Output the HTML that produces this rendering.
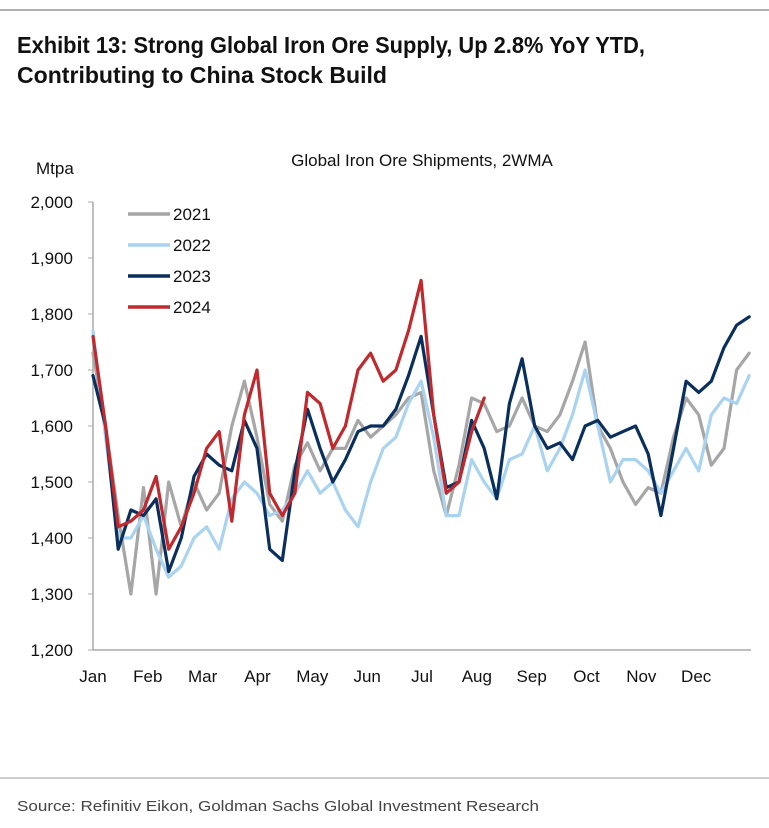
<!DOCTYPE html>
<html><head><meta charset="utf-8"><style>
html,body{margin:0;padding:0;background:#fff;}
svg{display:block;font-family:"Liberation Sans",Arial,sans-serif;}
</style></head><body>
<svg id="chart" width="769" height="828" viewBox="0 0 769 828">
<line x1="0" y1="10" x2="769" y2="10" stroke="#999" stroke-width="1.5"/>
<text x="17" y="53" font-size="23" font-weight="bold" fill="#111" textLength="628" lengthAdjust="spacingAndGlyphs">Exhibit 13: Strong Global Iron Ore Supply, Up 2.8% YoY YTD,</text>
<text x="17" y="83" font-size="23" font-weight="bold" fill="#111" textLength="370" lengthAdjust="spacingAndGlyphs">Contributing to China Stock Build</text>
<text x="422" y="166" font-size="17" text-anchor="middle" fill="#111">Global Iron Ore Shipments, 2WMA</text>
<text x="36" y="174" font-size="17" fill="#111">Mtpa</text>
<g id="axes"></g>
<g id="series"></g>
<g id="legend"></g>
<line x1="0" y1="778" x2="769" y2="778" stroke="#999" stroke-width="1"/>
<text x="17" y="811" font-size="15" fill="#444" textLength="522" lengthAdjust="spacingAndGlyphs">Source: Refinitiv Eikon, Goldman Sachs Global Investment Research</text>
</svg>
<script>
const months=["Jan","Feb","Mar","Apr","May","Jun","Jul","Aug","Sep","Oct","Nov","Dec"];
const yTicks=[1200,1300,1400,1500,1600,1700,1800,1900,2000];
const seriesNames=["2021","2022","2023","2024"];
const seriesColors=["#a6a6a6","#a9d3f0","#0b2f5c","#c0292e"];
const v2021=[1730,1600,1440,1300,1490,1300,1500,1420,1500,1450,1480,1600,1680,1580,1460,1430,1530,1570,1520,1560,1560,1610,1580,1600,1620,1650,1660,1520,1440,1530,1650,1640,1590,1600,1650,1600,1590,1620,1680,1750,1600,1560,1500,1460,1490,1480,1580,1650,1620,1530,1560,1700,1730];
const v2022=[1770,1580,1400,1400,1440,1380,1330,1350,1400,1420,1380,1470,1500,1480,1440,1450,1480,1520,1480,1500,1450,1420,1500,1560,1580,1640,1680,1580,1440,1440,1540,1500,1470,1540,1550,1600,1520,1560,1620,1700,1600,1500,1540,1540,1520,1480,1520,1560,1520,1620,1650,1640,1690];
const v2023=[1690,1600,1380,1450,1440,1470,1340,1400,1510,1550,1530,1520,1610,1560,1380,1360,1520,1630,1560,1500,1540,1590,1600,1600,1630,1690,1760,1620,1490,1500,1610,1560,1470,1640,1720,1600,1560,1570,1540,1600,1610,1580,1590,1600,1550,1440,1560,1680,1660,1680,1740,1780,1795];
const v2024=[1760,1600,1420,1430,1450,1510,1380,1420,1480,1560,1590,1430,1620,1700,1480,1440,1480,1660,1640,1560,1600,1700,1730,1680,1700,1770,1860,1620,1480,1500,1590,1650];
const seriesValues=[v2021,v2022,v2023,v2024];
const NS="http://www.w3.org/2000/svg";
const X0=93,X1=751,Y0=650,Y1=202,VMIN=1200,VMAX=2000;
function xWeek(w){return X0+(w*7)/365*(X1-X0);}
function xMonth(m){return X0+m*(X1-X0)/12;}
function yVal(v){return Y0-(v-VMIN)/(VMAX-VMIN)*(Y0-Y1);}
function mk(tag,attrs,parent){const e=document.createElementNS(NS,tag);for(const k in attrs)e.setAttribute(k,attrs[k]);parent.appendChild(e);return e;}
const axes=document.getElementById('axes');
const ya=mk('line',{x1:X0,y1:Y1,x2:X0,y2:Y0,stroke:'#aaa','stroke-width':1.5},axes);


yTicks.forEach(t=>{
  const tk=mk('line',{x1:X0-5,y1:yVal(t),x2:X0,y2:yVal(t),stroke:'#aaa'},axes);
  
  
  const tx=mk('text',{x:X0-20,y:yVal(t)+6,'font-size':17,'text-anchor':'end',fill:'#111'},axes);
  tx.textContent=t.toLocaleString('en-US');
  
  
});
const xa=mk('line',{x1:X0,y1:Y0,x2:X1,y2:Y0,stroke:'#aaa','stroke-width':1.5},axes);


months.forEach((m,i)=>{
  const tx=mk('text',{x:xMonth(i),y:682,'font-size':17,'text-anchor':'middle',fill:'#111'},axes);
  tx.textContent=m;
  
  
});
const sg=document.getElementById('series');
seriesValues.forEach((vals,i)=>{
  const d=vals.map((v,w)=>(w?'L':'M')+xWeek(w).toFixed(1)+' '+yVal(v).toFixed(1)).join(' ');
  const p=mk('path',{d:d,fill:'none',stroke:seriesColors[i],'stroke-width':3.2,'stroke-linejoin':'round','stroke-linecap':'round'},sg);
  
  
});
const lg=document.getElementById('legend');
seriesNames.forEach((n,i)=>{
  const y=214+i*31;
  const l=mk('line',{x1:128,y1:y,x2:170,y2:y,stroke:seriesColors[i],'stroke-width':3.5},lg);
  
  
  const t=mk('text',{x:173,y:y+6,'font-size':17,fill:'#111'},lg);
  t.textContent=n;
  
  
});
</script>
</body></html>
